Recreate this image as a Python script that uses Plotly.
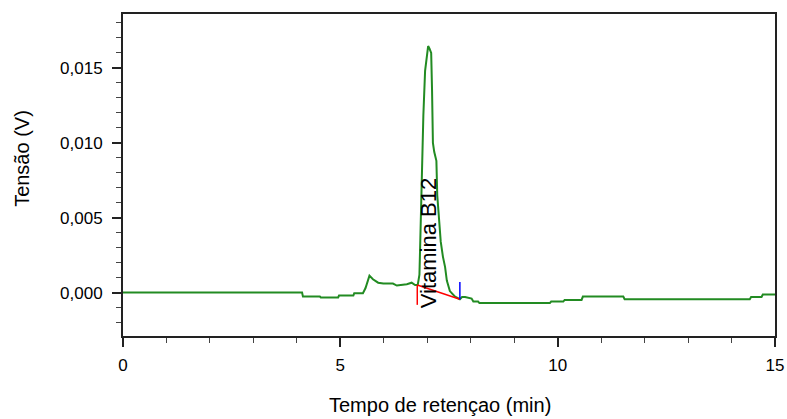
import plotly.graph_objects as go

# Chromatogram trace (time in min, voltage in V)
tempo = [0, 4.12, 4.14, 4.53, 4.55, 4.95, 4.97, 5.30, 5.32, 5.52,
         5.58, 5.67, 5.75, 5.87, 5.99, 6.21, 6.30, 6.53, 6.64, 6.72,
         6.78, 6.82, 6.84, 6.86, 6.88, 6.91, 6.95, 6.99, 7.02, 7.05,
         7.09, 7.11, 7.13, 7.16, 7.21, 7.23, 7.27, 7.31, 7.36, 7.41,
         7.45, 7.52, 7.64, 7.75, 7.80, 7.87, 8.02, 8.06, 8.17, 8.20,
         8.44, 9.82, 9.85, 10.13, 10.16, 10.55, 10.58, 11.51, 11.54, 14.42,
         14.45, 14.69, 14.72, 15.0]
tensao = [0, 0, -0.00027, -0.00027, -0.00033, -0.00033, -0.0002, -0.0002, -0.00004, -0.00004,
          0.0003, 0.00113, 0.00089, 0.00066, 0.0006, 0.0006, 0.00047, 0.00056, 0.00066, 0.0005,
          0.0005, 0.0012, 0.0035, 0.0065, 0.0096, 0.0118, 0.0148, 0.0160, 0.01646, 0.0163,
          0.0160, 0.0135, 0.0100, 0.0094, 0.0088, 0.0065, 0.0047, 0.0034, 0.0024, 0.0017,
          0.0008, 0.0001, -0.00027, -0.00044, -0.0003, -0.0003, -0.0004, -0.0006, -0.0006, -0.0007,
          -0.0007, -0.0007, -0.0006, -0.0006, -0.00049, -0.00049, -0.00027, -0.00027, -0.00044, -0.00044,
          -0.0003, -0.0003, -0.00013, -0.00013]

# Peak integration markers
base_x = [6.77, 7.75]
base_y = [0.0005, -0.00045]
start_x = [6.77, 6.77]
start_y = [0.0005, -0.00082]
end_x = [7.75, 7.75]
end_y = [-0.00045, 0.0007]

peak_label = "Vitamina B12"
peak_pos = (7.02, 0.0033)

FONT = "Liberation Sans, Arial, sans-serif"

fig = go.Figure()
fig.add_trace(go.Scatter(x=tempo, y=tensao, mode="lines",
                         line=dict(color="rgb(34,139,34)", width=2), showlegend=False))
fig.add_trace(go.Scatter(x=base_x, y=base_y, mode="lines",
                         line=dict(color="red", width=1.5), showlegend=False))
fig.add_trace(go.Scatter(x=start_x, y=start_y, mode="lines",
                         line=dict(color="red", width=1.5), showlegend=False))
fig.add_trace(go.Scatter(x=end_x, y=end_y, mode="lines",
                         line=dict(color="blue", width=1.5), showlegend=False))

fig.add_annotation(x=peak_pos[0], y=peak_pos[1], text=peak_label, textangle=-90,
                   showarrow=False, font=dict(family=FONT, size=22, color="black"))

fig.add_annotation(x=0.486, y=-0.214, xref="paper", yref="paper",
                   text="Tempo de retençao (min)", showarrow=False,
                   font=dict(family=FONT, size=20, color="black"),
                   xanchor="center", yanchor="middle")
fig.add_annotation(x=-0.155, y=0.553, xref="paper", yref="paper",
                   text="Tensão (V)", textangle=-90, showarrow=False,
                   font=dict(family=FONT, size=20, color="black"),
                   xanchor="center", yanchor="middle")

fig.update_layout(
    width=787, height=419,
    margin=dict(l=123, r=12, t=14, b=83, autoexpand=False),
    paper_bgcolor="white", plot_bgcolor="white",
    separators=", ",
    font=dict(family=FONT, size=17, color="black"),
)
fig.update_xaxes(range=[0, 15], dtick=5, tick0=0, ticks="outside", ticklen=9, tickwidth=1.5,
                 tickcolor="#222", showgrid=False, zeroline=False, automargin=False,
                 showline=True, linewidth=2, linecolor="#222", mirror=True,
                 minor=dict(dtick=1, ticks="outside", ticklen=5, tickcolor="#444", tickwidth=1),
                 tickfont=dict(size=17), ticklabelstandoff=4)
fig.update_yaxes(range=[-0.0029, 0.0186], dtick=0.005, tick0=0, tickformat=".3f",
                 ticks="outside", ticklen=9, tickwidth=1.5, tickcolor="#222",
                 showgrid=False, zeroline=False, automargin=False,
                 showline=True, linewidth=2, linecolor="#222", mirror=True,
                 minor=dict(dtick=0.001, ticks="outside", ticklen=5, tickcolor="#444", tickwidth=1),
                 tickfont=dict(size=17), ticklabelstandoff=6)

fig.write_html("out.html")
